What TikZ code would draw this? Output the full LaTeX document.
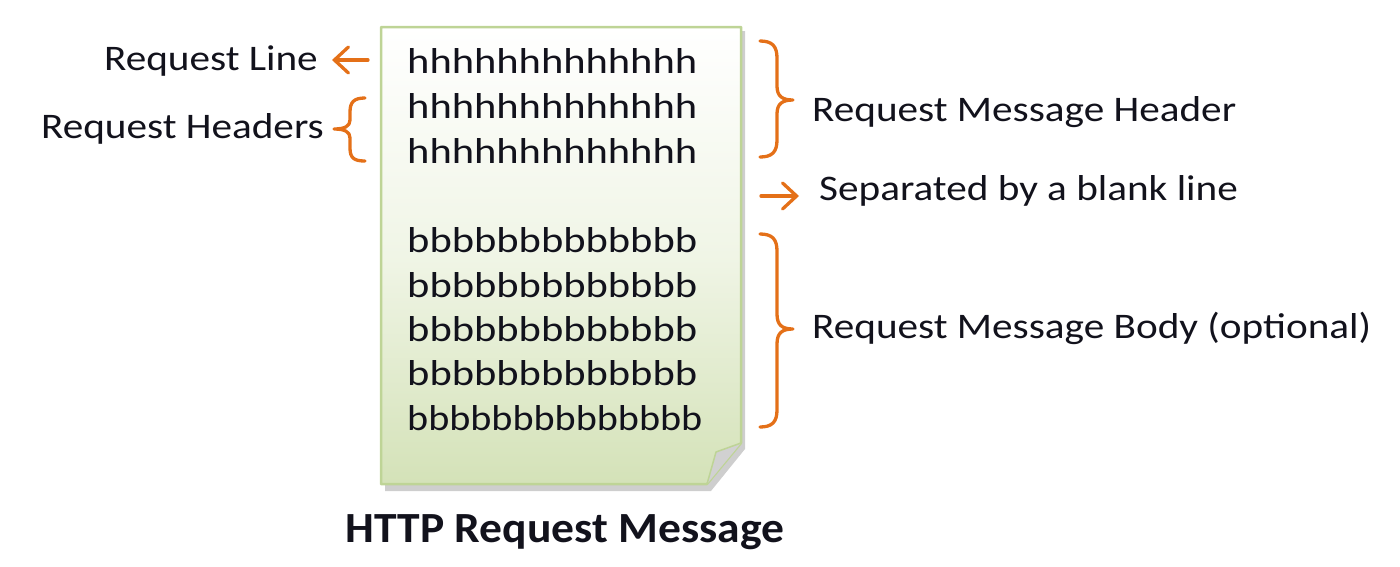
\documentclass[tikz,border=0pt]{standalone}
\usepackage{fontspec}
\setmainfont{Carlito}[FakeStretch=1.145]
\newfontfamily\boxfont{Carlito}[FakeStretch=1.18]
\newfontfamily\titlefont{Carlito}[FakeStretch=1.06]
\usetikzlibrary{arrows.meta}
\definecolor{orng}{RGB}{228,112,24}
\definecolor{txt}{RGB}{18,18,28}
\definecolor{pborder}{RGB}{190,212,150}
\definecolor{pbottom}{RGB}{212,226,184}
\tikzset{
  lbl/.style={inner sep=0pt, text=txt, font=\fontsize{36}{43}\selectfont},
  body/.style={inner sep=0pt, text=txt, font=\boxfont\fontsize{36}{43}\selectfont, anchor=base west},
  rlbl/.style={lbl, anchor=base west},
  obrace/.style={draw=orng, line width=3.3pt, line cap=round, line join=round},
  oarrow/.style={draw=orng, line width=3.3pt, line cap=round, -{Straight Barb[length=14pt,width=26pt,line cap=round]}},
}
\begin{document}
\begin{tikzpicture}[x=1pt,y=-1pt]
\useasboundingbox (0,0) rectangle (1400,566);
% paper shadow
\fill[black!35, opacity=0.55] (385,31) -- (745,31) -- (745,449) -- (711,491) -- (385,491) -- cycle;
% paper
\shade[top color=white, bottom color=pbottom, middle color={rgb,255:red,240;green,245;blue,230}]
  (381,27) -- (741,27) -- (741,443) -- (707,484) -- (381,484) -- cycle;
\draw[pborder, line width=2.5pt, line join=round]
  (381,27) -- (741,27) -- (741,443) -- (707,484) -- (381,484) -- cycle;
% fold
\fill[black!18] (741,443) -- (716,452) -- (707,484) -- cycle;
\draw[pborder, line width=1.5pt, line join=round] (741,443) -- (716,452) -- (707,484);
% header lines
\node[body] (h1) at (407,73) {hhhhhhhhhhhhh};
\node[body] (h2) at (407,118) {hhhhhhhhhhhhh};
\node[body] (h3) at (407,163) {hhhhhhhhhhhhh};
% body lines
\node[body] (b1) at (407,252) {bbbbbbbbbbbbb};
\node[body] (b2) at (407,297) {bbbbbbbbbbbbb};
\node[body] (b3) at (407,341) {bbbbbbbbbbbbb};
\node[body] (b4) at (407,385) {bbbbbbbbbbbbb};
\node[body, xscale=0.945, transform shape] (b5) at (407,430) {bbbbbbbbbbbbbb};
% left labels
\node[lbl, anchor=base east] (rl) at (318,70) {Request Line};
\node[lbl, anchor=base east] (rh) at (324,138) {Request Headers};
\coordinate (rla) at (368,60);
\coordinate (rlb) at (332,60);
\draw[oarrow] (rla) -- (rlb);
% left brace
\draw[obrace] (365,98) .. controls (354,98) and (350,102) .. (350,112) -- (350,120)
  .. controls (350,126) and (345,129) .. (334,129)
  .. controls (345,129) and (350,132) .. (350,138) -- (350,148)
  .. controls (350,158) and (354,161) .. (365,161);
% right brace 1
\draw[obrace] (760,41) .. controls (772,41) and (777,46) .. (777,58) -- (777,86)
  .. controls (777,96) and (782,100) .. (793,100)
  .. controls (782,100) and (777,104) .. (777,114) -- (777,140)
  .. controls (777,152) and (772,157) .. (760,157);
% right brace 2
\draw[obrace] (760,234) .. controls (772,234) and (777,239) .. (777,251) -- (777,314)
  .. controls (777,325) and (782,329) .. (793,329)
  .. controls (782,329) and (777,333) .. (777,344) -- (777,410)
  .. controls (777,422) and (772,427) .. (760,427);
% separator arrow
\coordinate (sa) at (761,196);
\coordinate (sb) at (799,196);
\draw[oarrow] (sa) -- (sb);
% right labels
\node[rlbl] (rmh) at (812,121) {Request Message Header};
\node[rlbl] (sep) at (819,200) {Separated by a blank line};
\node[rlbl] (rmb) at (812,338) {Request Message Body (optional)};
% title
\node[inner sep=0pt, anchor=base, text=txt, font=\titlefont\bfseries\fontsize{43}{50}\selectfont] (title) at (565,542) {HTTP Request Message};
\end{tikzpicture}
\end{document}
